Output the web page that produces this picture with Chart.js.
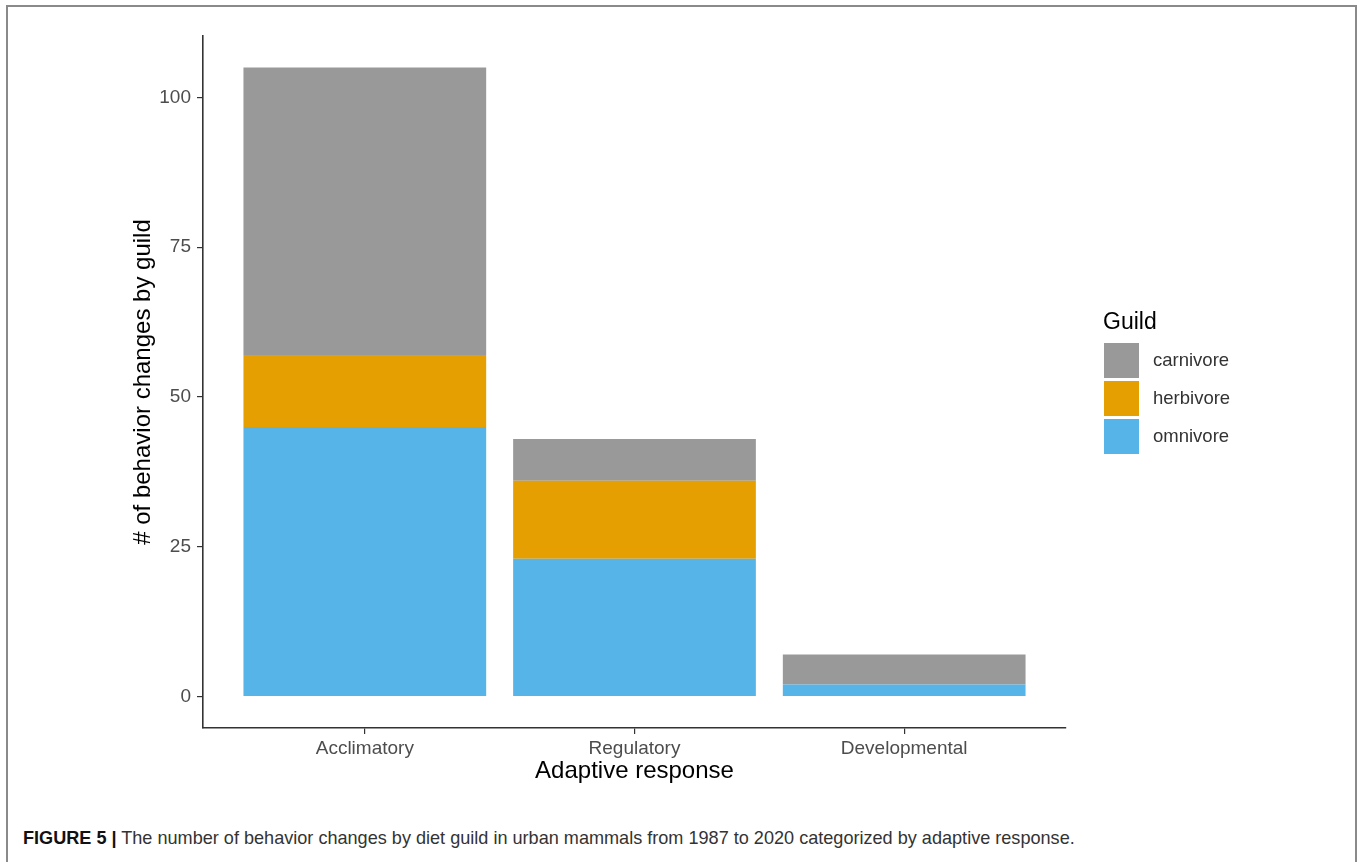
<!DOCTYPE html>
<html lang="en">
<head>
  <meta charset="UTF-8">
  <title>Behavior changes by guild</title>
  <script src="https://cdn.jsdelivr.net/npm/chart.js"></script>
  <style>
    html, body { margin: 0; padding: 0; background: #fff; overflow: hidden; }
    body { width: 1358px; height: 862px; position: relative; font-family: "Liberation Sans", Arial, sans-serif; }
    #frame { position: absolute; left: 6px; top: 5px; width: 1347px; height: 1000px; border: 2px solid #8a8a8a; border-bottom: none; }
    #wrap { position: absolute; left: 0; top: 0; width: 1358px; height: 800px; }
    #caption { position: absolute; left: 23px; top: 828px; font-size: 18.1px; color: #333; white-space: nowrap; }
    #caption b { color: #111; }
  </style>
</head>
<body>
  <div id="frame"></div>
  <div id="wrap"><canvas id="chart" width="1358" height="800"></canvas></div>
  <div id="caption"><b>FIGURE 5 |</b> The number of behavior changes by diet guild in urban mammals from 1987 to 2020 categorized by adaptive response.</div>

  <script>
    // data
    const responses = ['Acclimatory', 'Regulatory', 'Developmental'];
    const omnivore  = [45, 23, 2];
    const herbivore = [12, 13, 0];
    const carnivore = [48, 7, 5];
    const yTicks = [0, 25, 50, 75, 100];

    const guildColors = { carnivore: '#999999', herbivore: '#E69F00', omnivore: '#56B4E9' };

    const toPoints = arr => arr.map((v, i) => ({ x: i + 1, y: v }));

    // ggplot-style legend on the right
    const guildLegend = {
      id: 'guildLegend',
      afterDraw(chart) {
        const ctx = chart.ctx;
        ctx.save();
        ctx.fillStyle = '#000';
        ctx.font = '23px "Liberation Sans", Arial, sans-serif';
        ctx.textBaseline = 'alphabetic';
        ctx.textAlign = 'left';
        ctx.fillText('Guild', 1103, 329);
        const items = chart.data.datasets.slice().reverse();
        items.forEach((ds, i) => {
          const y = 343 + i * 38;
          ctx.fillStyle = ds.backgroundColor;
          ctx.fillRect(1104, y, 35, 35);
          ctx.fillStyle = '#333';
          ctx.font = '18.5px "Liberation Sans", Arial, sans-serif';
          ctx.textBaseline = 'middle';
          ctx.fillText(ds.label, 1153, y + 18);
        });
        ctx.restore();
      }
    };

    new Chart(document.getElementById('chart'), {
      type: 'bar',
      data: {
        datasets: [
          { label: 'omnivore', data: toPoints(omnivore), backgroundColor: guildColors.omnivore },
          { label: 'herbivore', data: toPoints(herbivore), backgroundColor: guildColors.herbivore },
          { label: 'carnivore', data: toPoints(carnivore), backgroundColor: guildColors.carnivore }
        ]
      },
      options: {
        responsive: false,
        animation: false,
        categoryPercentage: 1,
        barPercentage: 0.9,
        layout: { padding: { left: 120, top: 36, right: 292, bottom: 0 } },
        plugins: { legend: { display: false }, tooltip: { enabled: false } },
        scales: {
          x: {
            type: 'linear',
            min: 0.4,
            max: 3.6,
            offset: false,
            stacked: true,
            afterBuildTicks: s => { s.ticks = responses.map((_, i) => ({ value: i + 1 })); },
            afterFit: s => { s.height = 72; },
            grid: { offset: false, drawOnChartArea: false, drawTicks: true, tickLength: 6, color: '#333', lineWidth: 1.2 },
            border: { display: true, color: '#333', width: 1.6 },
            ticks: {
              autoSkip: false,
              maxRotation: 0,
              padding: 3,
              color: '#4d4d4d',
              font: { family: '"Liberation Sans", Arial, sans-serif', size: 19 },
              callback: v => responses[v - 1] || ''
            },
            title: {
              display: true,
              text: 'Adaptive response',
              color: '#000',
              font: { family: '"Liberation Sans", Arial, sans-serif', size: 24 },
              padding: { top: 14, bottom: 14 }
            }
          },
          y: {
            min: -5.25,
            max: 110.25,
            stacked: true,
            afterBuildTicks: s => { s.ticks = yTicks.map(v => ({ value: v })); },
            afterFit: s => { s.width = 83; },
            grid: { drawOnChartArea: false, drawTicks: true, tickLength: 6, color: '#333', lineWidth: 1.2 },
            border: { display: true, color: '#333', width: 1.6 },
            ticks: {
              padding: 6,
              color: '#4d4d4d',
              font: { family: '"Liberation Sans", Arial, sans-serif', size: 19 }
            },
            title: {
              display: true,
              text: '# of behavior changes by guild',
              color: '#000',
              font: { family: '"Liberation Sans", Arial, sans-serif', size: 24 },
              padding: { top: 9, bottom: 9 }
            }
          }
        }
      },
      plugins: [guildLegend]
    });
  </script>
</body>
</html>
